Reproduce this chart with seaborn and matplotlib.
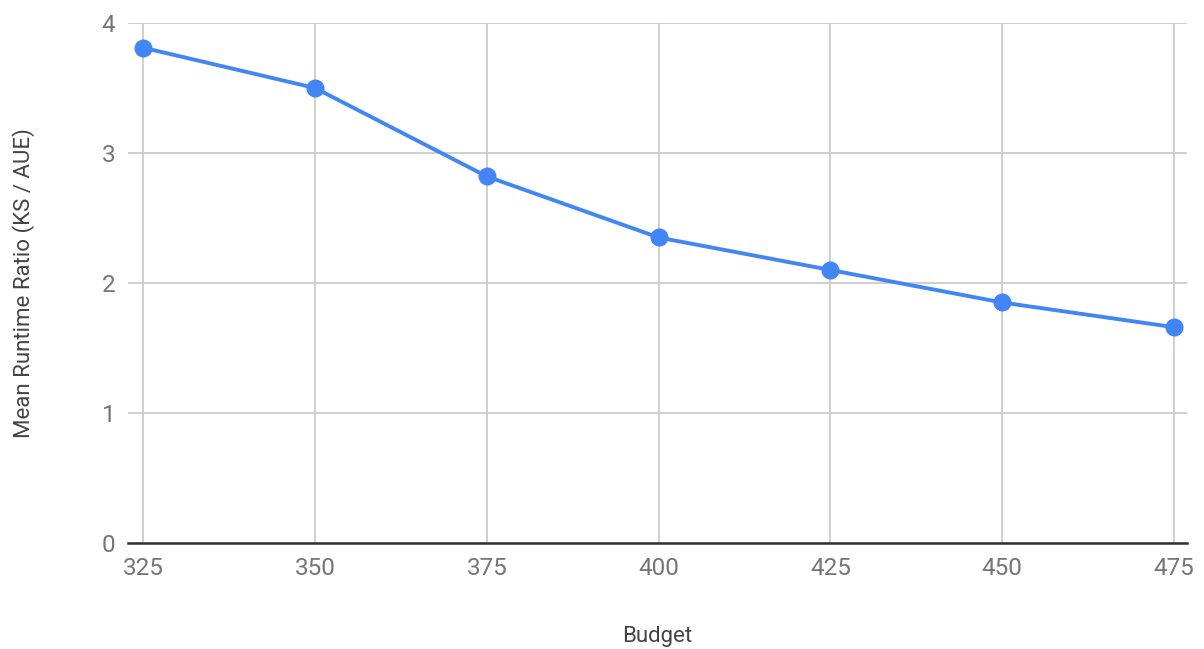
import matplotlib
matplotlib.use("Agg")
import matplotlib.pyplot as plt
import seaborn as sns
import pandas as pd

budget = [325, 350, 375, 400, 425, 450, 475]
runtime_ratio = [3.81, 3.50, 2.82, 2.35, 2.10, 1.85, 1.66]
y_ticks = [0, 1, 2, 3, 4]

sns.set_theme(style="white")
plt.rcParams["font.family"] = ["Roboto", "DejaVu Sans"]

df = pd.DataFrame({"Budget": budget, "Ratio": runtime_ratio})

fig = plt.figure(figsize=(12.04, 6.49), dpi=100)
ax = fig.add_axes([0.1063, 0.1633, 0.8797, 0.8013])

sns.lineplot(data=df, x="Budget", y="Ratio", ax=ax, color="#4285F4",
             linewidth=2.8, marker="o", markersize=13, markeredgewidth=0,
             zorder=3)

ax.set_xlim(322.8, 476.9)
ax.set_ylim(0, 4)
ax.set_xticks(budget)
ax.set_yticks(y_ticks)
ax.grid(True, color="#cccccc", linewidth=1.3)
ax.set_axisbelow(True)

for s in ["top", "right", "left"]:
    ax.spines[s].set_visible(False)
ax.spines["bottom"].set_color("#333333")
ax.spines["bottom"].set_linewidth(1.8)
ax.spines["bottom"].set_zorder(4)

ax.tick_params(axis="both", length=0, labelsize=17.5, labelcolor="#757575")
ax.tick_params(axis="x", pad=10)
ax.tick_params(axis="y", pad=9)

ax.set_xlabel("Budget", fontsize=16, color="#444444", labelpad=33)
ax.set_ylabel("Mean Runtime Ratio (KS / AUE)", fontsize=16, color="#444444",
              labelpad=48)

fig.savefig("out.png", dpi=100)
